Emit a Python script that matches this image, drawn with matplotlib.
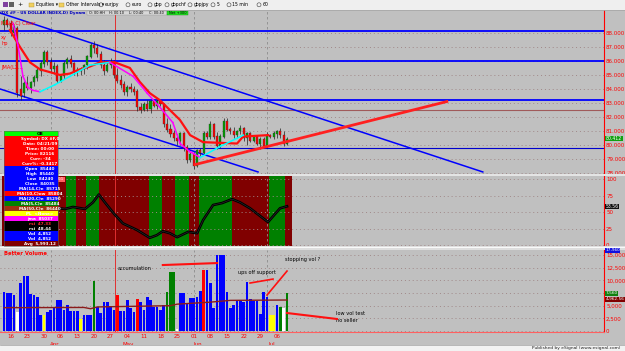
import numpy as np
import pandas as pd
import matplotlib
matplotlib.use("Agg")
import matplotlib.pyplot as plt
from matplotlib.patches import Rectangle
from matplotlib.transforms import blended_transform_factory

# ---------------- data ----------------
dates = pd.bdate_range("2009-03-12", periods=86)

opens = [88.6, 88.9, 88.7, 88.0, 88.3, 84.0, 83.7, 84.4, 84.1, 84.5,
         84.8, 85.3, 85.8, 86.6, 85.9, 85.4, 85.6, 84.6, 84.9, 85.8,
         86.1, 85.8, 85.2, 85.3, 85.4, 85.7, 86.3, 87.1, 86.9, 86.5,
         85.7, 85.3, 85.7, 86.0, 85.0, 84.6, 84.3, 83.8, 84.1, 84.0,
         83.8, 82.7, 82.5, 82.9, 82.6, 83.1, 82.8, 83.1, 82.9, 81.5,
         81.1, 80.8, 80.5, 80.3, 80.8, 79.8, 78.9, 79.3, 78.5, 79.6,
         79.4, 80.8, 80.6, 81.5, 80.6, 79.9, 80.6, 81.7, 81.1, 81.0,
         80.7, 81.0, 81.2, 80.5, 80.8, 80.3, 80.6, 80.1, 80.4, 79.9,
         80.7, 80.6, 80.8, 81.0, 80.7, 80.1]
highs = [89.2, 89.1, 88.9, 88.6, 88.5, 84.9, 84.6, 84.9, 84.6, 85.0,
         85.6, 86.0, 86.8, 86.8, 86.2, 85.9, 85.8, 85.1, 86.0, 86.3,
         86.4, 85.9, 85.6, 85.6, 85.8, 86.4, 87.3, 87.4, 87.2, 86.7,
         86.1, 85.9, 86.2, 86.1, 85.5, 85.0, 84.6, 84.3, 84.4, 84.2,
         84.0, 83.0, 83.1, 83.2, 83.2, 83.2, 83.3, 83.2, 83.0, 81.9,
         81.5, 81.1, 80.8, 80.9, 80.9, 80.0, 79.5, 79.5, 79.7, 79.8,
         81.0, 81.0, 81.7, 81.6, 80.9, 80.8, 81.9, 81.9, 81.3, 81.3,
         81.1, 81.4, 81.3, 80.9, 80.9, 80.7, 80.7, 80.6, 80.6, 80.9,
         80.8, 81.0, 81.1, 81.2, 81.0, 80.6]
lows = [88.2, 88.4, 87.8, 87.6, 83.4, 83.2, 83.4, 83.9, 83.7, 84.2,
        84.6, 84.9, 85.6, 85.7, 85.2, 85.1, 84.4, 84.5, 84.7, 85.5,
        85.6, 85.0, 84.9, 85.0, 85.1, 85.4, 86.2, 86.6, 86.3, 85.5,
        85.0, 85.2, 85.5, 84.8, 84.4, 84.1, 83.6, 83.5, 83.8, 83.6,
        82.4, 82.3, 82.4, 82.4, 82.3, 82.7, 82.6, 82.8, 81.3, 80.9,
        80.6, 80.3, 80.0, 80.0, 79.6, 78.7, 78.8, 78.3, 78.4, 79.2,
        79.3, 80.4, 80.4, 80.4, 79.7, 79.8, 80.5, 81.0, 80.8, 80.5,
        80.5, 80.8, 80.3, 80.0, 80.2, 80.2, 80.0, 79.7, 79.8, 79.8,
        80.5, 80.4, 80.5, 80.5, 79.9, 80.0]
closes = [88.9, 88.6, 88.0, 88.4, 83.7, 83.5, 84.4, 84.1, 84.5, 84.8,
          85.3, 85.8, 86.6, 85.9, 85.4, 85.6, 84.6, 84.9, 85.8, 86.1,
          85.8, 85.2, 85.3, 85.4, 85.7, 86.3, 87.1, 86.9, 86.5, 85.7,
          85.3, 85.7, 86.0, 85.0, 84.6, 84.3, 83.8, 84.1, 84.0, 83.8,
          82.7, 82.5, 82.9, 82.6, 83.1, 82.8, 83.1, 82.9, 81.5, 81.1,
          80.8, 80.5, 80.3, 80.8, 79.8, 78.9, 79.3, 78.5, 79.6, 79.4,
          80.8, 80.6, 81.5, 80.6, 79.9, 80.6, 81.7, 81.1, 81.0, 80.7,
          81.0, 81.2, 80.5, 80.8, 80.3, 80.6, 80.1, 80.4, 79.9, 80.7,
          80.6, 80.8, 81.0, 80.7, 80.1, 80.4]

# red moving average (bar index, price)
ma_x = [1.8, 4.8, 7.8, 10.8, 13.8, 16.8, 19.8, 22.8, 25.8, 28.8, 33.3, 37.8,
        40.8, 43.8, 46.8, 49.8, 52.8, 55.9, 59.8, 65.0, 70.0, 71.8, 79.3]
ma_y = [88.2, 87.0, 85.9, 85.4, 85.2, 85.0, 85.1, 85.4, 85.6, 85.9, 85.9, 85.5,
        84.5, 83.7, 83.2, 82.5, 81.8, 80.7, 80.2, 80.15, 80.1, 80.6, 80.7]

# magenta / cyan jma
jma_x = [2.7, 4.2, 5.7, 7.2, 8.7, 10.8, 11.7, 15.3, 19.8, 25.8, 31.8, 38.8,
         43.0, 46.8, 50.7, 52.9, 55.9, 56.8, 58.9, 65.0, 71.9]
jma_y = [88.7, 87.1, 84.9, 84.1, 83.9, 83.8, 83.9, 84.3, 84.9, 85.7, 85.9, 84.9,
         83.7, 82.7, 81.6, 80.1, 79.5, 79.4, 79.1, 79.9, 80.7]

# drawn lines on the price pane
blue_levels = [88.15, 86.0, 83.2]
thin_blue_level = 79.8
brown_level = 82.5
chan_upper = ([-1.2, 143.8], [89.43, 78.07])
chan_lower = ([-1.2, 76.3], [84.0, 78.07])
red_trend = ([57.4, 133.0], [78.6, 83.1])

# oscillator
osc_x = [16.5, 18.3, 20.7, 24.3, 26.7, 28.5, 30.3, 33.0, 35.7, 39.9, 43.8, 45.9,
         47.7, 49.8, 52.0, 55.3, 58.0, 59.8, 62.8, 65.5, 68.5, 70.9, 73.9, 79.3,
         82.9, 85.0]
osc_v = [56, 55, 58, 55, 65, 77, 65, 48, 33, 23, 11, 15, 21, 18, 12, 20, 18, 38,
         61, 64, 70, 65, 56, 35, 56, 59]
zone_cols = ["r", "g", "r", "g", "r", "g", "r", "g", "r", "g", "r", "g", "r"]
zone_lens = [19, 3, 3, 4, 15, 4, 4, 4, 3, 10, 11, 5, 2]

# better volume
vol = [7760, 7440, 7440, 7100, 3810, 9410, 10860, 10860, 7300, 7100,
       6780, 3160, 3160, 3810, 4150, 4480, 6120, 6120, 4150, 5130,
       4020, 4020, 4020, 2370, 3160, 3160, 3160, 9930, 4800, 3610,
       5790, 5790, 4800, 4150, 7100, 4020, 4020, 6120, 4480, 3810,
       6250, 5790, 4150, 6650, 6120, 4800, 4800, 4150, 5130, 7760,
       11580, 11580, 330, 7440, 7440, 5590, 6450, 6450, 6780, 7960,
       12040, 12040, 9540, 4480, 15000, 15000, 15000, 7760, 4480, 5130,
       6120, 6020, 5790, 9740, 6250, 6020, 6020, 3360, 7760, 6650,
       3160, 3160, 5130, 4800, 4480, 7560]
vol_cls = list("BBBBWBBBBBBBYBBBBBBBBBBYBBBGBBBBBBRBBBBBRBBBBBBBBGGGWBBBBBBBRBBBBBBBBBBBBBBBBBBBYYBGWG")
vma_x = [0, 24, 26, 28, 50, 52, 62, 68, 85]
vma_y = [4600, 4650, 4400, 4750, 5000, 5300, 5700, 6050, 6120]

# ---------------- figure ----------------
W, H = 625, 351
fig = plt.figure(figsize=(W / 100, H / 100), dpi=100, facecolor="#c0c0c0")
plt.rcParams["font.family"] = "DejaVu Sans"

def pane(top, bottom):
    return fig.add_axes([0, 1 - bottom / H, 604 / W, (bottom - top) / H])

axp = pane(10, 173.5)
axo = pane(175.5, 246)
axv = pane(250, 332)

xl = (-1.2, 180.2)
idx = np.arange(len(closes))
month_lines = [14, 57, 79]
cursor = 33.3
for ax in (axp, axo, axv):
    ax.set_facecolor("#c0c0c0")
    ax.set_xlim(*xl)
    for s in ("top", "left", "bottom"):
        ax.spines[s].set_visible(False)
    ax.spines["right"].set_color("red")
    ax.spines["right"].set_linewidth(0.8)
    ax.yaxis.tick_right()
    ax.tick_params(axis="y", length=0, pad=1.5, labelsize=4, labelcolor="red")
    ax.tick_params(axis="x", length=0)
    ax.grid(axis="y", color="#a08888", linestyle=(0, (1, 3)), lw=0.7)
    for m in month_lines:
        ax.axvline(m, color="#8c8c8c", lw=0.6, ls=(0, (3, 3)), zorder=1)
    ax.axvline(cursor, color="#e03030", lw=0.7, zorder=1)

# ---- price pane ----
axp.set_ylim(77.96, 89.64)
pt = list(range(78, 89))
axp.set_yticks(pt, [f"{v}.000" for v in pt])
axp.set_xticks([])
for lv in blue_levels:
    axp.axhline(lv, color="#0000ff", lw=1.3, zorder=2)
axp.axhline(thin_blue_level, color="#0000cc", lw=0.8, zorder=2)
axp.axhline(brown_level, color="#a05a5a", lw=0.8, zorder=2)
axp.plot(*chan_upper, color="#0000ff", lw=1.1, zorder=2)
axp.plot(*chan_lower, color="#0000ff", lw=1.1, zorder=2)
up = np.array(closes) >= np.array(opens)
axp.vlines(idx, lows, highs, color="#202020", lw=0.5, zorder=3)
axp.bar(idx, np.abs(np.array(closes) - np.array(opens)) + 0.03,
        bottom=np.minimum(opens, closes), width=0.62,
        color=np.where(up, "#00a000", "#ff0000"), edgecolor="#303030",
        linewidth=0.25, zorder=4)
axp.plot(ma_x, ma_y, color="#ff1010", lw=1.6, zorder=5)
for i in range(len(jma_x) - 1):
    c = "#ff00ff" if jma_y[i + 1] < jma_y[i] else "#00ffff"
    axp.plot(jma_x[i:i + 2], jma_y[i:i + 2], color=c, lw=1.1, zorder=5)
axp.plot(*red_trend, color="#ff2020", lw=2.0, zorder=6)

# ---- oscillator pane ----
axo.set_ylim(-1.5, 106)
axo.set_yticks([0, 25, 50, 75, 100], ["0", "25", "50", "75", "100"])
axo.set_xticks([])
start = 0
for c, n in zip(zone_cols, zone_lens):
    axo.axvspan(start - 0.5, start + n - 0.5, color="#800000" if c == "r" else "#008000",
                lw=0, zorder=0.5)
    start += n
axo.plot(osc_x, osc_v, color="black", lw=1.9, zorder=3)
axo.plot(osc_x, osc_v, color="#303030", lw=0.4, zorder=4)

# ---- volume pane ----
axv.set_ylim(-200, 16000)
vt = [0, 2500, 5000, 7500, 10000, 12500, 15000]
# the 7,500 label sits under the green value box in the original
axv.set_yticks(vt, ["" if v == 7500 else f"{v:,}" for v in vt])
cmap = {"B": "#0000ff", "Y": "#ffff00", "W": "#ffffff", "G": "#008000", "R": "#ff0000"}
axv.bar(idx, vol, width=0.8, color=[cmap[c] for c in vol_cls], lw=0, zorder=3)
axv.plot(vma_x, vma_y, color="#8b1a1a", lw=1.0, zorder=4)
axv.spines["bottom"].set_visible(True)
axv.spines["bottom"].set_color("#ff6060")
mondays = [i for i, d in enumerate(dates) if d.dayofweek == 0]
axv.set_xticks(mondays, [f"{dates[i].day:02d}" for i in mondays])
axv.tick_params(axis="x", labelsize=4, labelcolor="red", pad=1.5)
tr = blended_transform_factory(axv.transData, axv.transAxes)
for i, d in enumerate(dates):
    if i > 0 and d.month != dates[i - 1].month:
        axv.text(i + 1.3, -0.125, d.strftime("%b"), transform=tr, fontsize=4,
                 color="red", ha="center", va="top")
axv.text(0, 15300, "Better Volume", color="red", fontsize=3.8, weight="bold", va="center")
# annotations
axv.plot([47.7, 64.0], [13030, 13420], color="#ff1010", lw=1.5, zorder=6)
axv.plot([73.9, 80.8], [9475, 10260], color="#ff1010", lw=1.2, zorder=6)
axv.plot([79.0, 85.0], [7100, 11840], color="#ff1010", lw=1.2, zorder=6)
axv.plot([85.0, 100.0], [3550, 2370], color="#ff1010", lw=1.5, zorder=6)
anno = dict(fontsize=3.6, color="black", va="center")
axv.text(34.2, 12440, "accumulation", **anno)
axv.text(70.3, 11650, "ups off support", **anno)
axv.text(84.4, 14200, "stopping vol ?", **anno)
axv.text(99.7, 3360, "low vol test", **anno)
axv.text(99.7, 2170, "no seller", **anno)

# ---------------- overlay (toolbar, table, boxes) ----------------
ov = fig.add_axes([0, 0, 1, 1], zorder=10)
ov.set_xlim(0, W)
ov.set_ylim(H, 0)
ov.axis("off")

def box(x, y, w, h, fc, ec="none", lw=0.0):
    ov.add_patch(Rectangle((x, y), w, h, facecolor=fc, edgecolor=ec, lw=lw))

# separators
box(0, 173.5, W, 2, "#e4e4e4")
box(0, 246, W, 4, "#dedede")
ov.plot([0, W], [247, 247], color="white", lw=0.6)
# toolbar
box(0, 0, W, 9.5, "#efefef")
ov.plot([0, W], [9.5, 9.5], color="#a8a8a8", lw=0.6)
box(3, 2, 5, 5, "#8040a0")
box(9, 2, 5, 5, "#606060")
ov.text(20, 4.8, "+", fontsize=4.5, va="center", ha="center")
tb = [(32, "Equities \u25be", True), (62, "Other Intervals \u25be", True),
      (104, "eurjpy", False), (131, "euro", False), (153, "gbp", False),
      (170, "gbpchf", False), (193, "gbpjpy", False), (216, "5", False),
      (232, "15 min", False), (262, "60", False)]
for x, t, folder in tb:
    if folder:
        box(x - 3, 2.5, 5, 4, "#f0d060", "#b09030", 0.3)
        ov.text(x + 4, 4.8, t, fontsize=3.3, va="center")
    else:
        ov.add_patch(plt.Circle((x - 3, 4.8), 2.0, fc="none", ec="#404040", lw=0.4))
        ov.text(x + 0.5, 4.8, t, fontsize=3.3, va="center")
# price title
ov.text(0.5, 13, "(DX #F - US DOLLAR INDEX,D) Dynam", fontsize=2.9, color="#0000c0",
        weight="bold", va="center")
box(87, 10.8, 80, 4.6, "#d8d8d8", "#909090", 0.3)
for x, t in [(89, "O: 00:HH"), (109, "H: 00:10"), (129, "L: 00:40"), (149, "C: 00:40")]:
    ov.text(x, 13.1, t, fontsize=2.5, va="center")
box(167, 10.8, 21, 4.6, "#20e020", "#109010", 0.3)
ov.text(177.5, 13.1, "Net +300", fontsize=2.6, va="center", ha="center")
for y, t in [(24, "MA(5,C) Clear"), (37, "xy"), (43, "hp"), (67, "JMA(L2...")]:
    ov.text(1, y, t, fontsize=3.6, color="#ff0000", va="center")
# right-side value boxes
box(605, 135.5, 18, 5, "#10a010")
ov.text(614, 138, "80.412", fontsize=3.3, color="white", ha="center", va="center")
box(605, 203.5, 14, 5, "#101010")
ov.text(612, 206, "53.56", fontsize=3.3, color="white", ha="center", va="center")
box(605, 247.5, 15, 5, "#1010e0")
ov.text(612.5, 250, "17,960", fontsize=3.1, color="white", ha="center", va="center")
box(605, 290.5, 13, 5, "#108010")
ov.text(611.5, 293, "7,560", fontsize=3.1, color="white", ha="center", va="center")
box(605, 297, 20, 5, "#800000")
ov.text(615, 299.5, "4,962.56", fontsize=3.1, color="white", ha="center", va="center")
box(57.5, 176.5, 7, 5, "#ff6060")
ov.text(61, 179, "0.1", fontsize=2.8, color="white", ha="center", va="center")
# data window table
rows = [("OB", "#00ff00", "black"),
        ("Symbol: DX #F,0", "#ff0000", "white"), ("Date: 04/21/09", "#ff0000", "white"),
        ("Time: 00:00", "#ff0000", "white"), ("Price: 82116", "#ff0000", "white"),
        ("Curr: -34", "#ff0000", "white"), ("Curr%: -0.3417", "#ff0000", "white"),
        ("Open  85440", "#0000ff", "white"), ("High  85440", "#0000ff", "white"),
        ("Low  84240", "#0000ff", "white"), ("Close  84035", "#0000ff", "white"),
        ("MA(14,C)e  85715", "#0000ff", "white"), ("MA(10,C)ow  85804", "#ff0000", "white"),
        ("MA(20,C)e  85290", "#0000ff", "white"), ("MA(5,C)e  85484", "#008000", "white"),
        ("MA(50,C)e  86440", "#a03010", "white"), ("PL  <None>", "#ffff00", "white"),
        ("jma  85037", "#ff00ff", "white"), ("rsi  47.33", "#000000", "#ff3030"),
        ("rsi  48.44", "#000000", "white"), ("Vol  4,852", "#0000ff", "white"),
        ("Vol  4,852", "#0000ff", "white"), ("Avg  5,993.12", "#800000", "white")]
ty = 131
for t, bg, fg in rows:
    box(4, ty, 54, 5, bg)
    ov.text(40, ty + 2.6, t, fontsize=3.0, color=fg, weight="bold", ha="center", va="center")
    ty += 5
ov.add_patch(Rectangle((4, 131), 54, ty - 131, fc="none", ec="#606060", lw=0.4))
# status bar
box(0, 345, W, 6, "#f2f2f2")
ov.plot([0, W], [345, 345], color="#a0a0a0", lw=0.5)
ov.text(620, 348.3, "Published by eSignal (www.esignal.com)", fontsize=3.2,
        ha="right", va="center", color="#202020")

fig.savefig("out.png", dpi=100, facecolor=fig.get_facecolor())
